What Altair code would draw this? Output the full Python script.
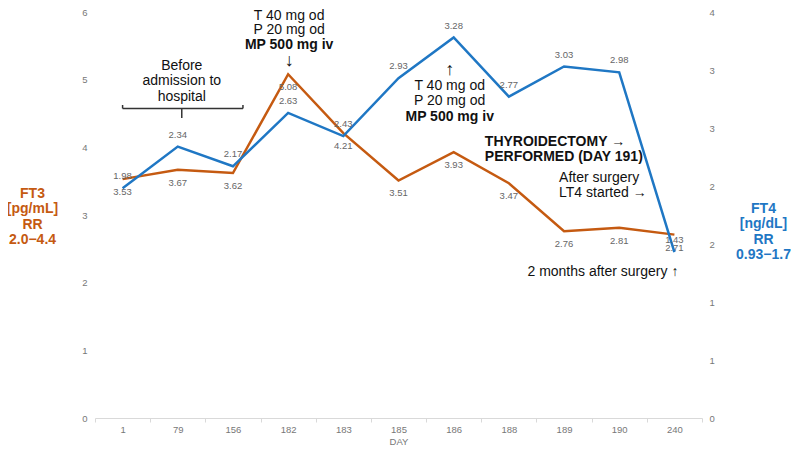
import altair as alt
import pandas as pd

# ---------------- data ----------------
days = ["1", "79", "156", "182", "183", "185", "186", "188", "189", "190", "240"]
ft3 = [3.53, 3.67, 3.62, 5.08, 4.21, 3.51, 3.93, 3.47, 2.76, 2.81, 2.71]
ft4 = [1.98, 2.34, 2.17, 2.63, 2.43, 2.93, 3.28, 2.77, 3.03, 2.98, 1.43]

ft3_ticks = [0, 1, 2, 3, 4, 5, 6]
ft4_ticks = [0, 0.5, 1, 1.5, 2, 2.5, 3, 3.5]

ft3_title = ["FT3", "[pg/mL]", "RR", "2.0\u22124.4"]
ft4_title = ["FT4", "[ng/dL]", "RR", "0.93\u22121.7"]

# annotations (anchored on the day category and the FT3 scale)
ann_day = ["182", "182", "182", "182",
           "79", "79", "79",
           "186", "186", "186", "186",
           "188", "188",
           "189", "189",
           "240"]
ann_v = [5.941, 5.727, 5.505, 5.269,
         5.206, 4.980, 4.739,
         5.143, 4.911, 4.689, 4.453,
         4.083, 3.862,
         3.542, 3.321,
         2.162]
ann_text = ["T 40 mg od", "P 20 mg od", "MP 500 mg iv", "\u2193",
            "Before", "admission to", "hospital",
            "\u2191", "T 40 mg od", "P 20 mg od", "MP 500 mg iv",
            "THYROIDECTOMY  \u2192", "PERFORMED (DAY 191)",
            "After surgery", "LT4 started  \u2192",
            "2 months after surgery  \u2191"]
ann_bold = [False, False, True, False,
            False, False, False,
            False, False, False, True,
            True, True,
            False, False,
            False]
ann_size = [14, 14, 14, 18,
            14, 14, 14,
            18, 14, 14, 14,
            14, 14,
            14, 14,
            14]
ann_align = ["center"] * 11 + ["left", "left", "left", "left", "right"]
ann_dx = [1, 1, 1, 1, 4, 4, 4, -4, -4, -4, -4, -24, -24, -5, -5, 4]

# bracket "Before admission to hospital"
brk_y = 4.574
brk_end_top = 4.626
brk_stem_bottom = 4.433

FONT = "Liberation Sans"
ORANGE = "#C55A11"
BLUE = "#1F77C4"
GRAY = "#666666"
AXGRAY = "#777777"

df = pd.DataFrame({"day": days, "ft3": ft3, "ft4": ft4})
ann = pd.DataFrame({"day": ann_day, "v": ann_v, "text": ann_text, "size": ann_size,
                    "bold": ann_bold, "align": ann_align, "dx": ann_dx})

x_axis = alt.Axis(title="DAY", labelAngle=0, labelColor=AXGRAY, labelFont=FONT,
                  labelFontSize=9.5, labelPadding=2, titleColor=AXGRAY,
                  titleFont=FONT, titleFontSize=9.5, titleFontWeight="normal",
                  titleY=23, titleBaseline="middle",
                  domainColor="#d9d9d9", tickColor="#d9d9d9", tickSize=4,
                  tickBand="extent", grid=False)
x_scale = alt.Scale(type="band", domain=days, paddingInner=0, paddingOuter=0)


def X():
    return alt.X("day:N", sort=None, bandPosition=0.5, scale=x_scale, axis=x_axis)


left_axis = alt.Axis(orient="left", values=ft3_ticks, format="d", domain=False,
                     ticks=False, grid=False, labelColor=AXGRAY, labelFont=FONT,
                     labelFontSize=9.5, labelPadding=8, title=ft3_title,
                     titleAngle=0, titleX=-63, titleY=181, titleAlign="center",
                     titleBaseline="middle", titleColor=ORANGE, titleFont=FONT,
                     titleFontSize=14, titleFontWeight="bold", titleLineHeight=15.5)
right_axis = alt.Axis(orient="right", values=ft4_ticks, format=".0f", domain=False,
                      ticks=False, grid=False, labelColor=AXGRAY, labelFont=FONT,
                      labelFontSize=9.5, labelPadding=7, title=ft4_title,
                      titleAngle=0, titleX=61, titleY=196, titleAlign="center",
                      titleBaseline="middle", titleColor=BLUE, titleFont=FONT,
                      titleFontSize=14, titleFontWeight="bold", titleLineHeight=15.5)
left_scale = alt.Scale(domain=[0, 6], nice=False, zero=True)
right_scale = alt.Scale(domain=[0, 3.5], nice=False, zero=True)


def YL(field):
    return alt.Y(field, type="quantitative", scale=left_scale, axis=left_axis)


def YR(field):
    return alt.Y(field, type="quantitative", scale=right_scale, axis=right_axis)


base = alt.Chart(df)

ft3_line = base.mark_line(color=ORANGE, strokeWidth=2.5).encode(x=X(), y=YL("ft3"))
ft3_lab = base.mark_text(dy=13, font=FONT, fontSize=9.5, color=GRAY).encode(
    x=X(), y=YL("ft3"), text=alt.Text("ft3:Q", format=".2f"))

ft4_line = base.mark_line(color=BLUE, strokeWidth=2.5).encode(x=X(), y=YR("ft4"))
ft4_lab = base.mark_text(dy=-12, font=FONT, fontSize=9.5, color=GRAY).encode(
    x=X(), y=YR("ft4"), text=alt.Text("ft4:Q", format=".2f"))

# annotation text layers
ann_layers = []
for (b, a, d, s), sub in ann.groupby(["bold", "align", "dx", "size"]):
    ann_layers.append(
        alt.Chart(sub).mark_text(font=FONT, fontSize=int(s), color="#111111",
                                 fontWeight="bold" if b else "normal",
                                 align=a, dx=int(d), baseline="middle")
        .encode(x=X(), y=YL("v"), text="text:N")
    )

# bracket
brk_h = alt.Chart(pd.DataFrame({"day": ["1"], "day2": ["156"], "v": [brk_y]})).mark_rule(
    color="#333333", strokeWidth=1.5, x2Offset=10).encode(
    x=X(), x2=alt.X2("day2", bandPosition=0.5), y=YL("v"))
brk_l = alt.Chart(pd.DataFrame({"day": ["1"], "v": [brk_y], "v2": [brk_end_top]})).mark_rule(
    color="#333333", strokeWidth=1.5).encode(x=X(), y=YL("v"), y2="v2")
brk_r = alt.Chart(pd.DataFrame({"day": ["156"], "v": [brk_y], "v2": [brk_end_top]})).mark_rule(
    color="#333333", strokeWidth=1.5, xOffset=10).encode(x=X(), y=YL("v"), y2="v2")
brk_s = alt.Chart(pd.DataFrame({"day": ["79"], "v": [brk_y], "v2": [brk_stem_bottom]})).mark_rule(
    color="#333333", strokeWidth=1.5, xOffset=4).encode(x=X(), y=YL("v"), y2="v2")

left = alt.layer(ft3_line, ft3_lab, brk_h, brk_l, brk_r, brk_s, *ann_layers)
right = alt.layer(ft4_line, ft4_lab)

chart = (
    alt.layer(left, right)
    .resolve_scale(y="independent")
    .properties(width=607, height=406, autosize="none",
                padding={"left": 87, "top": 4, "right": 89, "bottom": 27},
                background="white")
    .configure_view(stroke=None)
)

chart.save("out.html", embed_options={"renderer": "svg", "actions": False})
